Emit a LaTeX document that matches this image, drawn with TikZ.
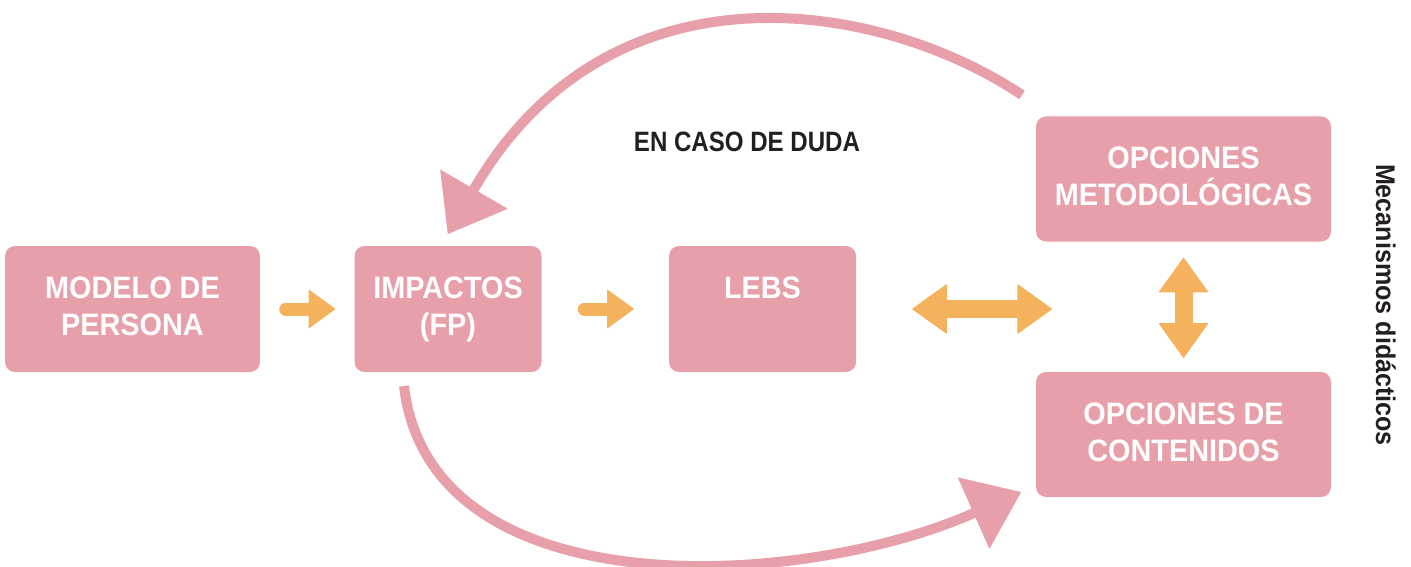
\documentclass[tikz,border=0pt]{standalone}
\usepackage{fontspec}
\setmainfont{Liberation Sans}[FakeStretch=0.93]
\newfontfamily\narrowfont{Liberation Sans}[FakeStretch=0.86]
\usetikzlibrary{arrows.meta}
\definecolor{boxpink}{HTML}{E79FAA}
\definecolor{arrorange}{HTML}{F5B25C}
\definecolor{txtdark}{HTML}{231F20}
\newcommand\lnstrut{\rule[-5pt]{0pt}{26pt}}
\begin{document}
\begin{tikzpicture}[x=1pt,y=-1pt,
  box/.style={fill=boxpink, rounded corners=10pt, text=white,
    font=\bfseries\fontsize{31}{37}\selectfont, align=center, inner sep=0pt},
  flowarrow/.style={draw=arrorange, line width=13pt, line cap=round,
    -{Triangle[length=27pt,width=39pt,round,line width=1pt]}},
  bothways/.style={draw=arrorange, line width=18pt,
    {Triangle[length=35pt,width=50pt,round,line width=1pt]}-{Triangle[length=35pt,width=50pt,round,line width=1pt]}},
  looparrow/.style={draw=boxpink, line width=10pt,
    -{Triangle[length=52pt,width=78pt,round,line width=1pt]}}
]
\useasboundingbox (0,0) rectangle (1411,567);

\node[box, minimum width=255pt, minimum height=126pt] (modelo) at (132.5,309) {\lnstrut MODELO DE\\\lnstrut PERSONA};
\node[box, minimum width=187pt, minimum height=126pt] (impactos) at (448,309) {\lnstrut IMPACTOS\\\lnstrut (FP)};
\node[box, minimum width=187pt, minimum height=126pt] (lebs) at (762.5,309) {\lnstrut LEBS\\\lnstrut};
\node[box, minimum width=295pt, minimum height=125pt] (metodo) at (1183.5,179) {\lnstrut OPCIONES\\\lnstrut METODOLÓGICAS};
\node[box, minimum width=295pt, minimum height=125pt] (contenidos) at (1183.5,434.5) {\lnstrut OPCIONES DE\\\lnstrut CONTENIDOS};

\node[text=txtdark, font=\narrowfont\bfseries\fontsize{28}{32}\selectfont] (duda) at (747,142) {EN CASO DE DUDA};
\node[text=txtdark, font=\bfseries\fontsize{27}{30}\selectfont, rotate=-90] (mec) at (1386,305) {Mecanismos didácticos};

\coordinate (dblend) at (1052,309);
\coordinate (loopstart) at (1022,95);
\coordinate (botstart) at (404,386);

\draw[flowarrow, shorten <=25.5pt, shorten >=19pt] (modelo.east) -- (impactos.west);
\draw[flowarrow, shorten <=42.5pt, shorten >=35pt] (impactos.east) -- (lebs.west);
\draw[bothways, shorten <=56pt] (lebs.east) -- (dblend);
\draw[bothways, shorten <=16pt, shorten >=14pt] (metodo.south) -- (contenidos.north);

\draw[looparrow] (loopstart) .. controls (880,0) and (610,-45) .. ([yshift=12pt]impactos.north);
\draw[looparrow] (botstart) .. controls (430,610) and (800,590) .. ([xshift=-15pt,yshift=5pt]contenidos.south west);
\end{tikzpicture}
\end{document}
